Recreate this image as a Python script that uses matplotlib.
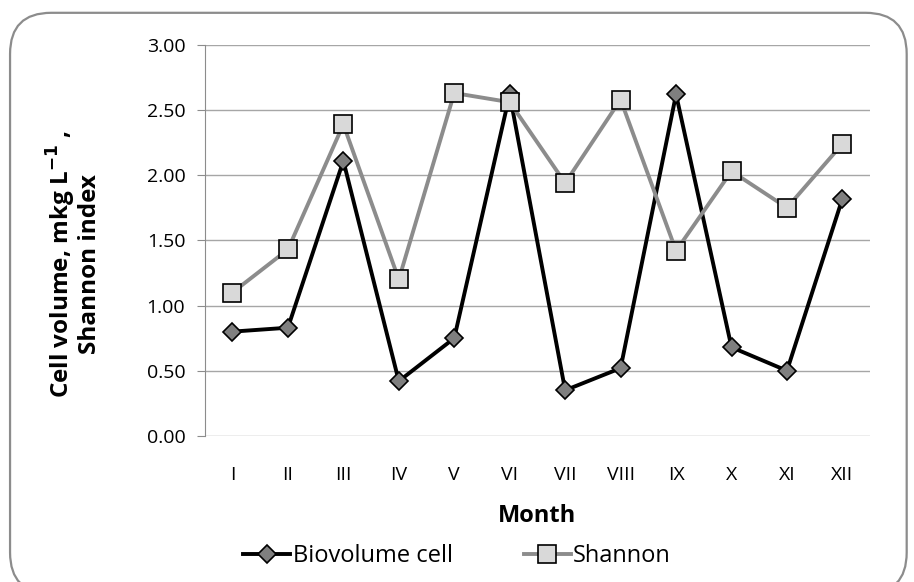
import matplotlib.pyplot as plt
import numpy as np
from matplotlib.patches import FancyBboxPatch

months = ['I', 'II', 'III', 'IV', 'V', 'VI', 'VII', 'VIII', 'IX', 'X', 'XI', 'XII']
biovolume = [0.80, 0.83, 2.11, 0.42, 0.75, 2.62, 0.35, 0.52, 2.62, 0.68, 0.50, 1.82]
shannon = [1.10, 1.43, 2.39, 1.20, 2.63, 2.56, 1.94, 2.58, 1.42, 2.03, 1.75, 2.24]

plt.rcParams['font.family'] = ['Open Sans', 'DejaVu Sans']

fig = plt.figure(figsize=(9.14, 5.82), dpi=100)
ax = fig.add_axes([0.224, 0.251, 0.728, 0.672])

# rounded outer frame like the spreadsheet chart area
frame = FancyBboxPatch((0.011, -0.02), 0.981, 0.998, boxstyle='round,pad=0,rounding_size=0.045',
                       transform=fig.transFigure, facecolor='none', edgecolor='#8c8c8c',
                       linewidth=1.6, zorder=0, mutation_aspect=914 / 582)
fig.patches.append(frame)

x = np.arange(len(months))
ax.plot(x, biovolume, color='black', linewidth=2.8, marker='D', markersize=9,
        markerfacecolor='#7f7f7f', markeredgecolor='black', markeredgewidth=1.2,
        label='Biovolume cell', zorder=3)
ax.plot(x, shannon, color='#8c8c8c', linewidth=2.8, marker='s', markersize=13,
        markerfacecolor='#d9d9d9', markeredgecolor='black', markeredgewidth=1.2,
        label='Shannon', zorder=4)

ax.set_xlim(-0.5, len(months) - 0.5)
ax.set_ylim(0, 3)
ax.set_yticks(np.arange(0, 3.01, 0.5))
ax.set_yticklabels(['%.2f' % v for v in np.arange(0, 3.01, 0.5)], fontsize=14)
ax.set_xticks(x)
ax.set_xticklabels(months, fontsize=14)
ax.tick_params(axis='x', length=0, pad=22)
ax.tick_params(axis='y', length=6, color='#8c8c8c', pad=8)
ax.yaxis.grid(True, color='#a6a6a6', linewidth=1)
ax.set_axisbelow(True)
for s in ['top', 'right', 'bottom']:
    ax.spines[s].set_visible(False)
ax.spines['left'].set_color('#8c8c8c')

ax.set_xlabel('Month', fontsize=17, fontweight='bold', labelpad=14)
ax.set_ylabel('Cell volume, mkg L$^{\\mathbf{-1}}$ ,\nShannon index', fontsize=17.5,
              fontweight='bold', linespacing=1.0)
ax.yaxis.set_label_coords(-0.155, 0.44)

fig.legend(loc='center', bbox_to_anchor=(0.5, 0.045), ncol=2, frameon=False,
           fontsize=17, handlelength=2.0, handletextpad=0.1, columnspacing=3.0)

fig.savefig('out.png', dpi=100)
